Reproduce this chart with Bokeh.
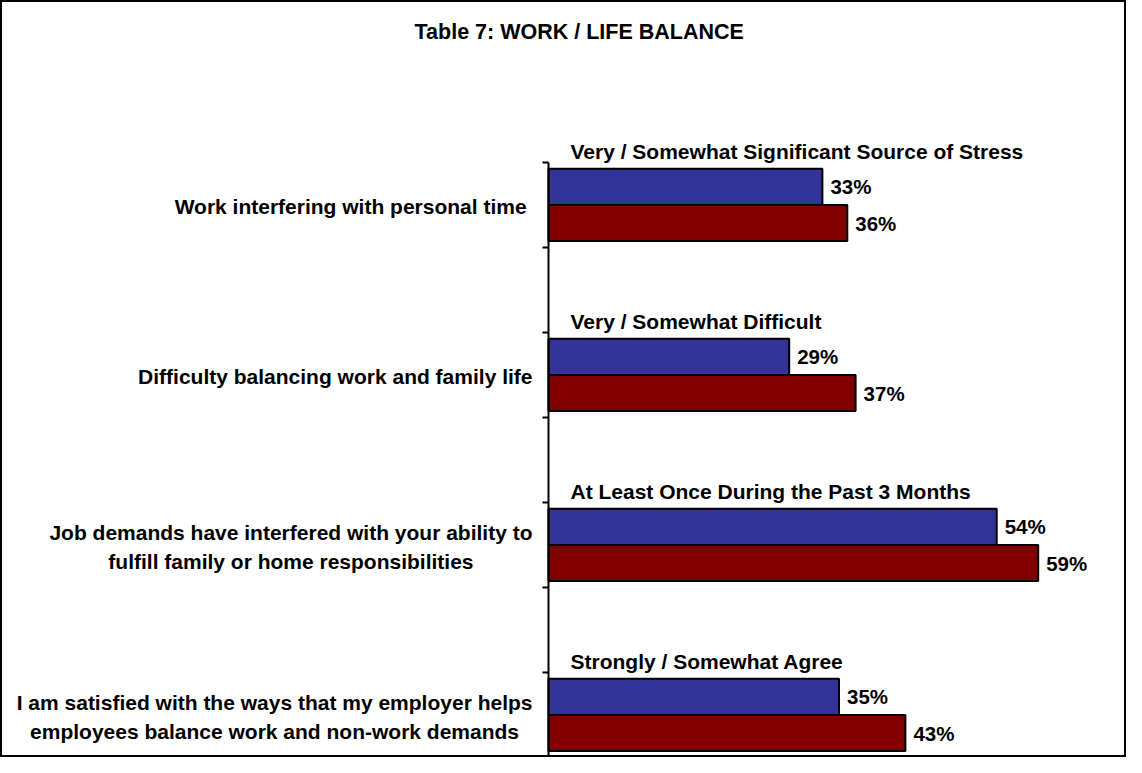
from bokeh.plotting import figure
from bokeh.models import ColumnDataSource, Range1d, FixedTicker
from bokeh.core.properties import value
from bokeh.embed import file_html
from bokeh.resources import INLINE

# ---------------- data ----------------
chart_title = "Table 7: WORK / LIFE BALANCE"
questions = [
    "Work  interfering with personal time",
    "Difficulty balancing work and family life",
    "Job demands have interfered with your ability to\nfulfill family or home responsibilities",
    "I am satisfied with the ways that my employer helps\nemployees balance work and non-work demands",
]
measures = [
    "Very / Somewhat Significant Source of Stress",
    "Very / Somewhat Difficult",
    "At Least Once During the Past 3 Months",
    "Strongly / Somewhat Agree",
]
series_blue = [33, 29, 54, 35]
series_red = [36, 37, 59, 43]

# ---------------- layout ----------------
FONT = value("Liberation Sans")
W, H = 1126, 757
BAR_H = 0.425          # each bar, in slot units (1 slot = one tick interval)
n = len(questions)
slot_center = [2 * i + 0.5 for i in range(n)]
blue_y = [c - BAR_H / 2 for c in slot_center]
red_y = [c + BAR_H / 2 for c in slot_center]

p = figure(width=W, height=H, output_backend="svg", toolbar_location=None,
           x_range=Range1d(-65.78, 69.88), y_range=Range1d(7.024, -1.882),
           min_border_left=0, min_border_right=0, min_border_top=0, min_border_bottom=0,
           styles={"border": "2px solid black"})
p.outline_line_color = None
p.xgrid.visible = False
p.ygrid.visible = False
p.xaxis.visible = False
p.background_fill_color = "white"
p.border_fill_color = "white"

ticks = list(range(2 * n))
yax = p.yaxis[0]
yax.fixed_location = 0
yax.bounds = (0, 2 * n - 1)
yax.ticker = FixedTicker(ticks=ticks)
yax.major_label_overrides = {t: "" for t in ticks}
yax.major_tick_out = 6
yax.major_tick_in = 0
yax.minor_tick_line_color = None
yax.axis_line_width = 2
yax.major_tick_line_width = 2
yax.axis_line_color = "black"
yax.major_tick_line_color = "black"
yax.major_label_standoff = 0

src = ColumnDataSource(dict(q=questions, m=measures, b=series_blue, r=series_red,
                            by=blue_y, ry=red_y, c=slot_center,
                            my=[2 * i - 0.13 for i in range(n)],
                            bl=[f"{v}%" for v in series_blue],
                            rl=[f"{v}%" for v in series_red],
                            zero=[0] * n))

p.hbar(y="by", left=0, right="b", height=BAR_H, source=src,
       fill_color="#333399", line_color="black", line_width=2)
p.hbar(y="ry", left=0, right="r", height=BAR_H, source=src,
       fill_color="#800000", line_color="black", line_width=2)

common = dict(text_font=FONT, text_font_style="bold", text_color="black")

p.text(x="b", y="by", text="bl", source=src, x_offset=8, text_align="left",
       text_baseline="middle", text_font_size="20.5px", **common)
p.text(x="r", y="ry", text="rl", source=src, x_offset=8, text_align="left",
       text_baseline="middle", text_font_size="20.5px", **common)
p.text(x="zero", y="my", text="m", source=src, x_offset=22, text_align="left",
       text_baseline="middle", text_font_size="21px", **common)
p.text(x="zero", y="c", text="q", source=src, x_offset=-16, y_offset=2,
       text_align="center", anchor="center_right", text_line_height=1.25,
       text_font_size="21px", **common)

title_src = ColumnDataSource(dict(x=[3.7], y=[-1.53], t=[chart_title]))
p.text(x="x", y="y", text="t", source=title_src, text_align="center",
       text_baseline="middle", text_font_size="21.5px", **common)

open("out.html", "w").write(file_html(p, INLINE))
